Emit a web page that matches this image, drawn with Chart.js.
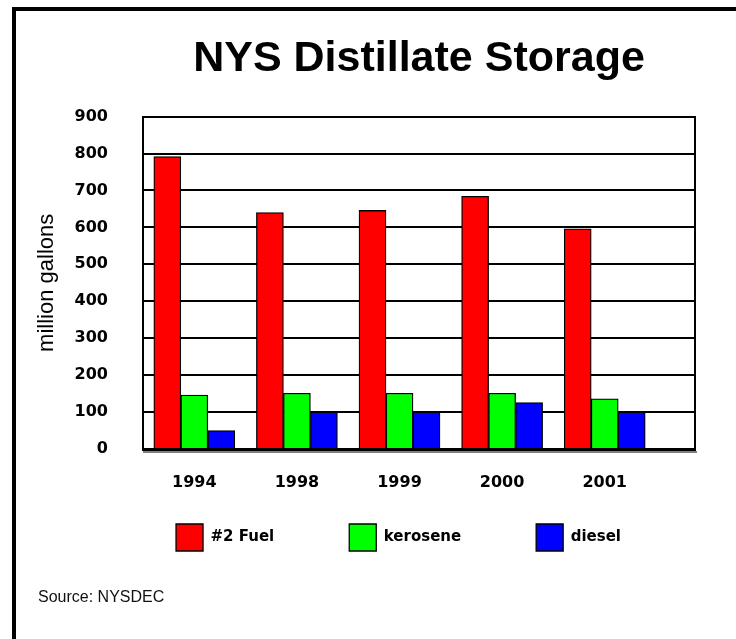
<!DOCTYPE html>
<html>
<head>
<meta charset="utf-8">
<title>NYS Distillate Storage</title>
<script src="https://cdn.jsdelivr.net/npm/chart.js@4"></script>
<style>
  html, body { margin: 0; padding: 0; background: #fff; overflow: hidden; }
  body { width: 736px; height: 639px; position: relative; }
  #frame { position: absolute; left: 12px; top: 7px; width: 900px; height: 900px; border: 4px solid #000; }
  #chart { position: absolute; left: 0; top: 0; }
  #source { position: absolute; left: 38px; top: 589px; font: 16px/16px "Liberation Sans", Arial, sans-serif; color: #111; }
</style>
</head>
<body>
<div id="frame"></div>
<canvas id="chart" width="736" height="639"></canvas>
<div id="source">Source: NYSDEC</div>
<script>
// Data (million gallons)
const years = ["1994", "1998", "1999", "2000", "2001"];
const fuel2 = [792, 640, 646, 684, 596];
const kerosene = [146, 151, 151, 151, 136];
const diesel = [50, 100, 100, 126, 100];
const yTicks = [0, 100, 200, 300, 400, 500, 600, 700, 800, 900];

// Turn a series into {x, y} points on the linear x axis
const toPoints = (values) => values.map((v, i) => ({ x: i, y: v }));

const xAxisHeight = 50;

// Move the legend up under the year labels and a bit to the right
const legendShift = {
  id: "legendShift",
  afterLayout(chart) {
    const lg = chart.legend;
    lg.left += 34;
    lg.right += 34;
    lg.top -= xAxisHeight;
    lg.bottom -= xAxisHeight;
  },
};

// Grey shadow under the floor line, like the old 3D chart
const floorShadow = {
  id: "floorShadow",
  afterDraw(chart) {
    const { ctx, chartArea } = chart;
    ctx.save();
    ctx.strokeStyle = "#808080";
    ctx.lineWidth = 2;
    ctx.beginPath();
    ctx.moveTo(chartArea.left, chartArea.bottom + 3);
    ctx.lineTo(chartArea.right + 2, chartArea.bottom + 3);
    ctx.stroke();
    ctx.restore();
  },
};

const tickFont = { family: "DejaVu Sans", size: 16, weight: "bold" };

new Chart(document.getElementById("chart"), {
  type: "bar",
  data: {
    datasets: [
      { label: "#2 Fuel", data: toPoints(fuel2), backgroundColor: "#ff0000" },
      { label: "kerosene", data: toPoints(kerosene), backgroundColor: "#00ff00" },
      { label: "diesel", data: toPoints(diesel), backgroundColor: "#0000ff" },
    ],
  },
  options: {
    responsive: false,
    animation: false,
    layout: { padding: { left: 34, right: 41, top: 0, bottom: 28 } },
    datasets: {
      bar: { barThickness: 27, borderColor: "#000", borderWidth: 1.3 },
    },
    scales: {
      x: {
        type: "linear",
        offset: false,
        min: -0.5,
        max: 4.88,
        afterBuildTicks: (s) => { s.ticks = years.map((_, i) => ({ value: i })); },
        afterFit: (s) => { s.height = xAxisHeight; },
        grid: { display: false },
        border: { display: true, color: "#000", width: 3 },
        ticks: { padding: 16, color: "#000", font: tickFont, callback: (v) => years[v] },
      },
      y: {
        min: 0,
        max: 900,
        afterBuildTicks: (s) => { s.ticks = yTicks.map((v) => ({ value: v })); },
        afterFit: (s) => { s.width = 109; },
        grid: { color: "#000", lineWidth: 2, drawTicks: false },
        border: { display: true, color: "#000", width: 2 },
        ticks: { padding: 35, color: "#000", font: tickFont },
        title: {
          display: true,
          text: "million gallons",
          color: "#000",
          padding: 0,
          font: { family: "Liberation Sans", size: 22 },
        },
      },
      yRight: {
        position: "right",
        min: 0,
        max: 900,
        afterFit: (s) => { s.width = 0; },
        grid: { display: false },
        ticks: { display: false },
        border: { display: true, color: "#000", width: 2 },
      },
    },
    plugins: {
      title: {
        display: true,
        fullSize: false,
        text: "NYS Distillate Storage",
        color: "#000",
        padding: { top: 33, bottom: 32 },
        font: { family: "Liberation Sans", size: 43, weight: "bold" },
      },
      legend: {
        position: "bottom",
        labels: {
          boxWidth: 27,
          boxHeight: 27,
          padding: 75,
          color: "#000",
          font: { family: "DejaVu Sans", size: 15, weight: "bold" },
        },
      },
      tooltip: { enabled: false },
    },
  },
  plugins: [legendShift, floorShadow],
});
</script>
</body>
</html>
